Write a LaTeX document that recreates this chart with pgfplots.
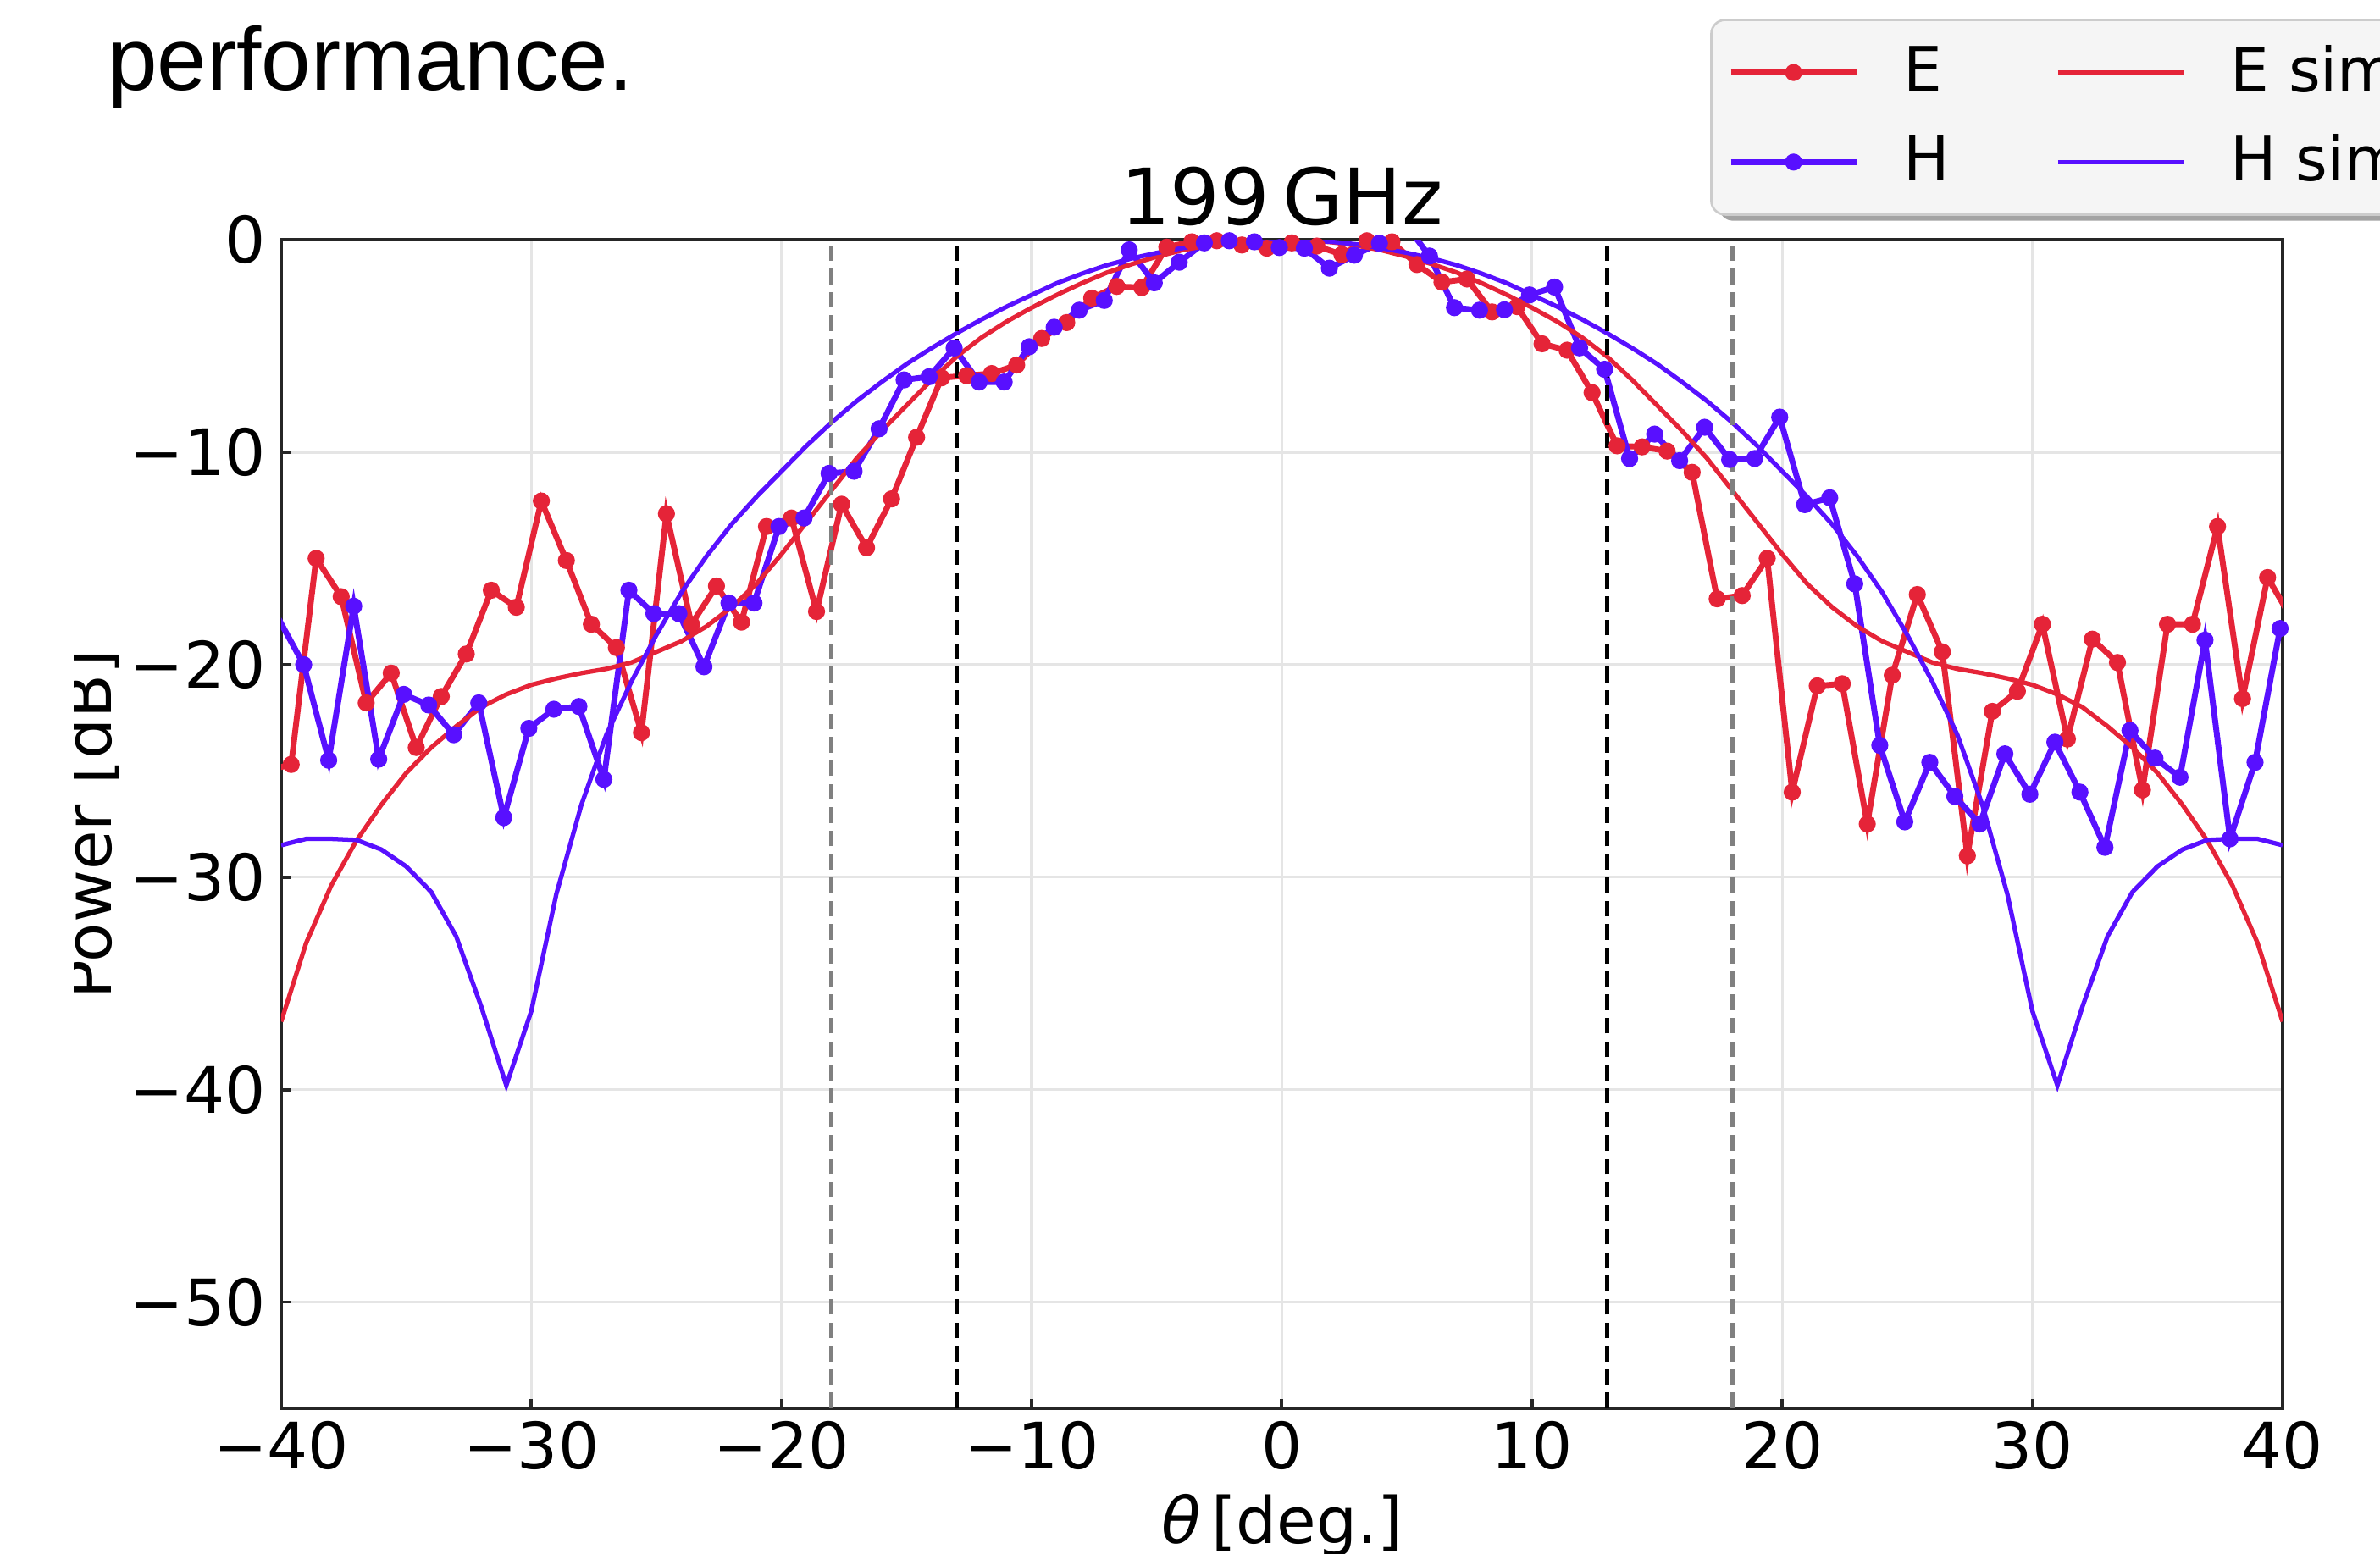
\documentclass[border=0pt]{standalone}
\usepackage{pgfplots}
\pgfplotsset{compat=1.18}
\usepackage{pgfplotstable}
\usepackage{fontspec}
\setmainfont{DejaVu Sans}
\newfontfamily\arialfont{Liberation Sans}
\usetikzlibrary{shadows}

\definecolor{ered}{RGB}{229,36,56}
\definecolor{hblue}{RGB}{88,16,255}

% keep the legend shadow off the sample lines
\makeatletter
\tikzset{no shadow/.code={\let\tikz@preactions\pgfutil@empty}}
\makeatother

\begin{document}
% measured E-plane (deg, dB)
\pgfplotstableread{
th db
-40.6 -25.0
-39.6 -24.7
-38.6 -15.0
-37.6 -16.8
-36.6 -21.8
-35.6 -20.4
-34.6 -23.9
-33.6 -21.5
-32.6 -19.5
-31.6 -16.5
-30.6 -17.3
-29.6 -12.3
-28.6 -15.1
-27.6 -18.1
-26.6 -19.2
-25.6 -23.2
-24.6 -12.9
-23.6 -18.1
-22.6 -16.3
-21.6 -18.0
-20.6 -13.5
-19.6 -13.1
-18.6 -17.5
-17.6 -12.45
-16.6 -14.5
-15.6 -12.2
-14.6 -9.3
-13.6 -6.5
-12.6 -6.4
-11.6 -6.3
-10.6 -5.9
-9.6 -4.65
-8.6 -3.9
-7.6 -2.75
-6.6 -2.2
-5.6 -2.25
-4.6 -0.35
-3.6 -0.1
-2.6 -0.05
-1.6 -0.25
-0.6 -0.4
0.4 -0.15
1.4 -0.3
2.4 -0.7
3.4 -0.05
4.4 -0.1
5.4 -1.17
6.4 -2.0
7.4 -1.85
8.4 -3.4
9.4 -3.15
10.4 -4.9
11.4 -5.2
12.4 -7.2
13.4 -9.7
14.4 -9.75
15.4 -9.95
16.4 -10.95
17.4 -16.9
18.4 -16.75
19.4 -15.0
20.4 -26.0
21.4 -21.0
22.4 -20.9
23.4 -27.5
24.4 -20.5
25.4 -16.7
26.4 -19.4
27.4 -29.0
28.4 -22.2
29.4 -21.25
30.4 -18.1
31.4 -23.5
32.4 -18.8
33.4 -19.9
34.4 -25.9
35.4 -18.1
36.4 -18.1
37.4 -13.5
38.4 -21.6
39.4 -15.9
40.4 -17.9
}\Emeas
% measured H-plane (deg, dB)
\pgfplotstableread{
th db
-40.1 -17.85
-39.1 -20.0
-38.1 -24.5
-37.1 -17.25
-36.1 -24.45
-35.1 -21.4
-34.1 -21.9
-33.1 -23.3
-32.1 -21.8
-31.1 -27.2
-30.1 -23.0
-29.1 -22.1
-28.1 -21.97
-27.1 -25.4
-26.1 -16.5
-25.1 -17.6
-24.1 -17.6
-23.1 -20.1
-22.1 -17.1
-21.1 -17.1
-20.1 -13.5
-19.1 -13.1
-18.1 -11.0
-17.1 -10.9
-16.1 -8.9
-15.1 -6.6
-14.1 -6.45
-13.1 -5.1
-12.1 -6.7
-11.1 -6.7
-10.1 -5.04
-9.1 -4.12
-8.1 -3.32
-7.1 -2.86
-6.1 -0.48
-5.1 -2.03
-4.1 -1.06
-3.1 -0.15
-2.1 -0.05
-1.1 -0.1
-0.1 -0.37
0.9 -0.4
1.9 -1.34
2.9 -0.73
3.9 -0.17
4.9 0.8
5.9 -0.77
6.9 -3.2
7.9 -3.32
8.9 -3.3
9.9 -2.6
10.9 -2.23
11.9 -5.09
12.9 -6.1
13.9 -10.3
14.9 -9.15
15.9 -10.4
16.9 -8.83
17.9 -10.35
18.9 -10.3
19.9 -8.35
20.9 -12.47
21.9 -12.15
22.9 -16.2
23.9 -23.8
24.9 -27.4
25.9 -24.6
26.9 -26.2
27.9 -27.5
28.9 -24.2
29.9 -26.1
30.9 -23.65
31.9 -26.0
32.9 -28.6
33.9 -23.1
34.9 -24.4
35.9 -25.3
36.9 -18.85
37.9 -28.2
38.9 -24.6
39.9 -18.3
}\Hmeas
% simulated E-plane
\pgfplotstableread{
th db
-40 -36.8
-39 -33.1
-38 -30.4
-37 -28.3
-36 -26.6
-35 -25.1
-34 -23.9
-33 -22.9
-32 -22.0
-31 -21.4
-30 -20.95
-29 -20.65
-28 -20.4
-27 -20.2
-26 -19.9
-25 -19.4
-24 -18.9
-23 -18.2
-22 -17.3
-21 -16.2
-20 -14.8
-19 -13.3
-18 -11.8
-17 -10.3
-16 -9.0
-15 -7.8
-14 -6.6
-13 -5.5
-12 -4.6
-11 -3.85
-10 -3.2
-9 -2.6
-8 -2.05
-7 -1.55
-6 -1.15
-5 -0.8
-4 -0.5
-3 -0.28
-2 -0.12
-1 -0.03
0 0
1 -0.03
2 -0.12
3 -0.28
4 -0.5
5 -0.8
6 -1.15
7 -1.55
8 -2.05
9 -2.6
10 -3.2
11 -3.85
12 -4.6
13 -5.5
14 -6.6
15 -7.8
16 -9.0
17 -10.3
18 -11.8
19 -13.3
20 -14.8
21 -16.2
22 -17.3
23 -18.2
24 -18.9
25 -19.4
26 -19.9
27 -20.2
28 -20.4
29 -20.65
30 -20.95
31 -21.4
32 -22.0
33 -22.9
34 -23.9
35 -25.1
36 -26.6
37 -28.3
38 -30.4
39 -33.1
40 -36.8
}\Esim
% simulated H-plane
\pgfplotstableread{
th db
-40 -28.5
-39 -28.2
-38 -28.2
-37 -28.25
-36 -28.7
-35 -29.5
-34 -30.7
-33 -32.8
-32 -36.1
-31 -39.8
-30 -36.3
-29 -30.8
-28 -26.6
-27 -23.3
-26 -20.8
-25 -18.6
-24 -16.6
-23 -14.9
-22 -13.4
-21 -12.1
-20 -10.9
-19 -9.7
-18 -8.6
-17 -7.6
-16 -6.7
-15 -5.85
-14 -5.1
-13 -4.4
-12 -3.75
-11 -3.15
-10 -2.6
-9 -2.05
-8 -1.6
-7 -1.2
-6 -0.88
-5 -0.62
-4 -0.4
-3 -0.22
-2 -0.1
-1 -0.03
0 0
1 -0.03
2 -0.1
3 -0.22
4 -0.4
5 -0.62
6 -0.88
7 -1.2
8 -1.6
9 -2.05
10 -2.6
11 -3.15
12 -3.75
13 -4.4
14 -5.1
15 -5.85
16 -6.7
17 -7.6
18 -8.6
19 -9.7
20 -10.9
21 -12.1
22 -13.4
23 -14.9
24 -16.6
25 -18.6
26 -20.8
27 -23.3
28 -26.6
29 -30.8
30 -36.3
31 -39.8
32 -36.1
33 -32.8
34 -30.7
35 -29.5
36 -28.7
37 -28.25
38 -28.2
39 -28.2
40 -28.5
}\Hsim
\begin{tikzpicture}
\begin{axis}[
  at={(0,0)}, anchor=south west,
  width=12.614cm, height=7.366cm, scale only axis,
  xmin=-40, xmax=40, ymin=-55, ymax=0,
  xtick={-40,-30,...,40}, ytick={-50,-40,...,0},
  xticklabels={−40,−30,−20,−10,0,10,20,30,40},
  yticklabels={−50,−40,−30,−20,−10,0},
  xtick pos=left, ytick pos=left,
  tick align=inside, major tick length=0.06cm,
  tick style={black!85, line width=0.6pt},
  axis line style={black!85, line width=0.6pt},
  grid=major, major grid style={black!10, line width=0.5pt},
  tick label style={font=\fontsize{11.5}{14}\selectfont},
  xticklabel style={anchor=north, inner sep=0pt, yshift=-0.075cm},
  yticklabel style={anchor=east, inner sep=0pt, xshift=-0.09cm},
  label style={font=\fontsize{11.5}{14}\selectfont},
  xlabel={{\itshape θ}\,[deg.]},
  xlabel style={at={(axis description cs:0.5,-0.1159)}, anchor=base},
  ylabel={Power [dB]},
  ylabel style={at={(axis description cs:-0.0847,0.5)}, anchor=base},
  title={199\,GHz},
  every axis title/.style={at={(axis description cs:0.5,1)}, anchor=base,
    yshift=0.096cm, font=\fontsize{14}{17}\selectfont},
  legend columns=2, legend cell align=left,
  legend image code/.code={\draw[no shadow,mark repeat=2,mark phase=2,#1]
    plot coordinates {(0cm,0cm) (0.395cm,0cm) (0.79cm,0cm)};},
  legend style={at={(0.714,1.189)}, anchor=north west,
    draw=black!20, fill=black!4, rounded corners=2.5pt,
    drop shadow={shadow xshift=1.4pt, shadow yshift=-1.1pt, fill=black!40, opacity=0.9},
    font=\fontsize{11}{13}\selectfont,
    inner xsep=3pt, inner ysep=2.5pt, row sep=2.2pt,
    /tikz/every odd column/.append style={column sep=6pt},
    /tikz/every even column/.append style={column sep=17pt}},
]
\addplot[ered, line width=1.05pt, mark=*, mark size=1pt, forget plot] table {\Emeas};
\addplot[hblue, line width=1.05pt, mark=*, mark size=1pt, forget plot] table {\Hmeas};
\addplot[ered, line width=0.8pt, forget plot] table {\Esim};
\addplot[hblue, line width=0.8pt, forget plot] table {\Hsim};
% beam-width markers
\addplot[black!50, line width=0.8pt, dash pattern=on 2.8pt off 1.4pt, forget plot] coordinates {(-18,-55) (-18,0)};
\addplot[black!50, line width=0.8pt, dash pattern=on 2.8pt off 1.4pt, forget plot] coordinates {(18,-55) (18,0)};
\addplot[black, line width=0.8pt, dash pattern=on 2.8pt off 1.4pt, forget plot] coordinates {(-13,-55) (-13,0)};
\addplot[black, line width=0.8pt, dash pattern=on 2.8pt off 1.4pt, forget plot] coordinates {(13,-55) (13,0)};
% legend, row by row
\addlegendimage{ered, line width=1.05pt, mark=*, mark size=1pt}
\addlegendentry{E}
\addlegendimage{ered, line width=0.8pt}
\addlegendentry{E sim}
\addlegendimage{hblue, line width=1.05pt, mark=*, mark size=1pt}
\addlegendentry{H}
\addlegendimage{hblue, line width=0.8pt}
\addlegendentry{H sim}
\end{axis}
% left edge of the pasted figure is cut off
\fill[white] (-1.772,-0.918) rectangle (-1.305,8.877);
\node[anchor=base west, inner sep=0pt, font=\arialfont\fontsize{16}{19}\selectfont]
  at (-1.1,8.306) {performance.};
\pgfresetboundingbox
\path[use as bounding box] (-1.772,-0.918) rectangle (13.228,8.877);
\end{tikzpicture}
\end{document}
